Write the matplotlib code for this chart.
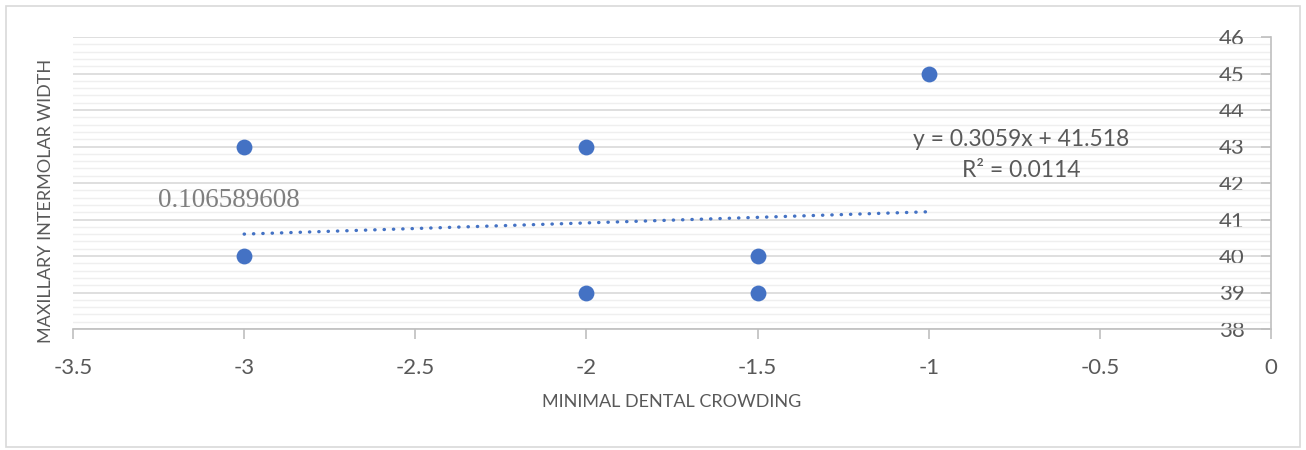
import matplotlib
matplotlib.use("Agg")
import matplotlib.pyplot as plt
import numpy as np
from matplotlib.patches import Rectangle
from matplotlib.ticker import MultipleLocator

# Data
crowding = [-3, -3, -2, -2, -1.5, -1.5, -1]
width = [43, 40, 43, 39, 40, 39, 45]
trend_slope = 0.3059
trend_intercept = 41.518
equation_text = "y = 0.3059x + 41.518"
r2_text = "R² = 0.0114"
side_note = "0.106589608"
x_ticks = [-3.5, -3, -2.5, -2, -1.5, -1, -0.5, 0]
y_ticks = [38, 39, 40, 41, 42, 43, 44, 45, 46]
x_title = "MINIMAL DENTAL CROWDING"
y_title = "MAXILLARY INTERMOLAR WIDTH"

plt.rcParams['font.family'] = ['Lato', 'DejaVu Sans']
fig = plt.figure(figsize=(13.06, 4.5), dpi=100)
fig.patches.append(Rectangle((6/1306, 1 - 447/450), 1294/1306, 441/450,
                             transform=fig.transFigure, fill=False,
                             edgecolor='#D9D9D9', linewidth=1.2))
ax = fig.add_axes([73/1306, 1 - 329/450, 1198/1306, 292/450])

text_col = '#595959'
ax.set_xlim(-3.5, 0)
ax.set_ylim(38, 46)
ax.set_xticks(x_ticks)
ax.set_xticklabels([f"{v:g}" for v in x_ticks])
ax.set_yticks(y_ticks)
ax.set_yticklabels([f"{v:g}" for v in y_ticks])
ax.yaxis.set_minor_locator(MultipleLocator(0.2))

ax.grid(which='major', axis='y', color='#D9D9D9', linewidth=1.2, zorder=0)
ax.grid(which='minor', axis='y', color='#EFEFEF', linewidth=1.0, zorder=0)
ax.set_axisbelow(True)

for s in ['top', 'left']:
    ax.spines[s].set_visible(False)
ax.spines['bottom'].set_color('#BFBFBF')
ax.spines['bottom'].set_linewidth(1.2)
ax.spines['right'].set_color('#BFBFBF')
ax.spines['right'].set_linewidth(1.2)

ax.yaxis.tick_right()
ax.tick_params(axis='y', which='major', direction='in', length=7, width=1.2,
               color='#BFBFBF', pad=-19, labelsize=16, labelcolor=text_col)
ax.tick_params(axis='y', which='minor', length=0)
for lbl in ax.get_yticklabels():
    lbl.set_horizontalalignment('right')
ax.tick_params(axis='x', direction='out', length=7, width=1.2,
               color='#BFBFBF', pad=14, labelsize=16, labelcolor=text_col)

ax.scatter(crowding, width, s=130, color='#4472C4', zorder=3, linewidths=0)

xt = np.array([min(crowding), max(crowding)])
ax.plot(xt, trend_slope * xt + trend_intercept, color='#4472C4',
        linewidth=2.4, linestyle=(0, (0.1, 2.7)), dash_capstyle='round', zorder=2)

ax.text(-0.73, 43.18, equation_text, ha='center', va='center', fontsize=16.5, color=text_col)
ax.text(-0.73, 42.33, r2_text, ha='center', va='center', fontsize=16.5, color=text_col)
ax.text(-3.252, 41.53, side_note, ha='left', va='center', fontsize=19.5,
        color='#7F7F7F', family='Liberation Serif')

fig.text(672/1306, 1 - 402/450, x_title, ha='center', va='center', fontsize=13, color=text_col)
fig.text(46/1306, 1 - 201/450, y_title, ha='center', va='center', fontsize=13,
         color=text_col, rotation=90)

fig.savefig('out.png', dpi=100)
